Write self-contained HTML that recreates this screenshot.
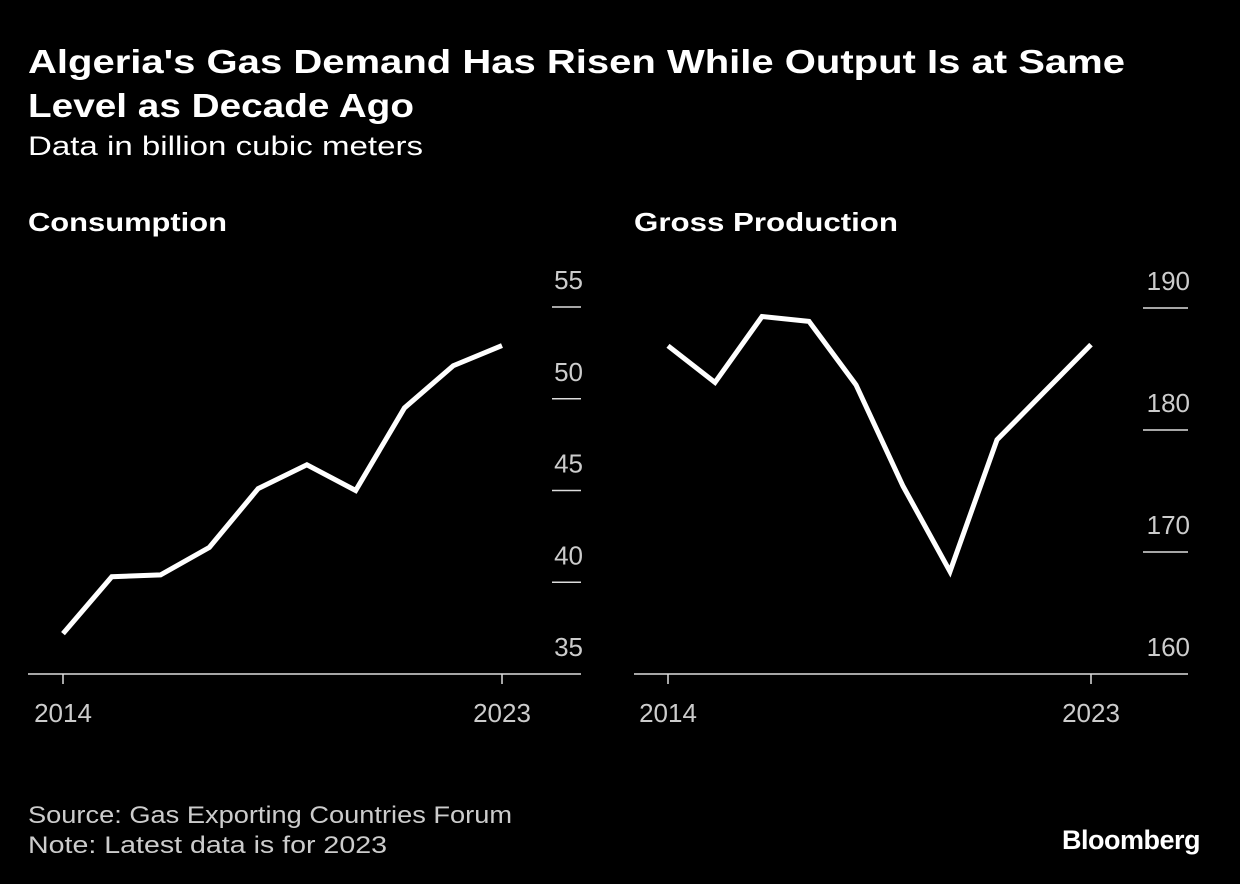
<!DOCTYPE html>
<html><head><meta charset="utf-8"><style>
body{margin:0;background:#000;width:1240px;height:884px;overflow:hidden;font-family:"Liberation Sans",sans-serif;}
svg{position:absolute;left:0;top:0}
</style></head><body>
<svg width="1240" height="884">
<text x="28" y="73" fill="#fff" font-size="33" font-weight="bold" textLength="1097" lengthAdjust="spacingAndGlyphs">Algeria's Gas Demand Has Risen While Output Is at Same</text>
<text x="28" y="117" fill="#fff" font-size="33" font-weight="bold" textLength="386" lengthAdjust="spacingAndGlyphs">Level as Decade Ago</text>
<text x="28" y="155" fill="#fff" font-size="27" textLength="395" lengthAdjust="spacingAndGlyphs">Data in billion cubic meters</text>
<text x="28" y="231" fill="#fff" font-size="26" font-weight="bold" textLength="199" lengthAdjust="spacingAndGlyphs">Consumption</text>
<text x="634" y="231" fill="#fff" font-size="26" font-weight="bold" textLength="264" lengthAdjust="spacingAndGlyphs">Gross Production</text>
<g id="left"></g><g id="right"></g>
<text x="28" y="823" fill="#ccc" font-size="24" textLength="484" lengthAdjust="spacingAndGlyphs">Source: Gas Exporting Countries Forum</text>
<text x="28" y="853" fill="#ccc" font-size="24" textLength="359" lengthAdjust="spacingAndGlyphs">Note: Latest data is for 2023</text>
<text x="1200" y="849" fill="#fff" font-size="27" font-weight="bold" text-anchor="end" letter-spacing="-0.5">Bloomberg</text>
</svg>
<script>
const years=[2014,2015,2016,2017,2018,2019,2020,2021,2022,2023];
const consumption=[37.2,40.3,40.4,41.9,45.1,46.4,45.0,49.5,51.8,52.9];
const production=[186.9,183.9,189.3,188.9,183.7,175.4,168.4,179.2,183.1,187.0];
const consTicks=[35,40,45,50,55];
const prodTicks=[160,170,180,190];
const NS="http://www.w3.org/2000/svg";
function mk(p,t,a){const e=document.createElementNS(NS,t);for(const k in a)e.setAttribute(k,a[k]);p.appendChild(e);return e;}
function draw(gid,vals,ticks,ymin,ymax,yTop,x0,x1,axL,axR,tickL,name){
 const g=document.getElementById(gid);
 const yb=674;
 const ys=v=>yb-(v-ymin)/(ymax-ymin)*(yb-yTop);
 const xs=i=>x0+(x1-x0)*(i)/(years.length-1);
 ticks.forEach(t=>{
  if(t!==ymin){const l=mk(g,'line',{x1:tickL,x2:axR,y1:ys(t),y2:ys(t),stroke:'#ddd','stroke-width':1.5});
  
  }
  const tx=mk(g,'text',{x:axR+2,y:ys(t)-18,fill:'#ccc','font-size':26,'text-anchor':'end'});
  tx.textContent=t;
  
  
 });
 const b=mk(g,'line',{x1:axL,x2:axR,y1:yb,y2:yb,stroke:'#ddd','stroke-width':1.5});
 
 
 [0,years.length-1].forEach(i=>{
  const t=mk(g,'line',{x1:xs(i),x2:xs(i),y1:yb,y2:yb+10,stroke:'#ddd','stroke-width':1.5});
  
  
  const tx=mk(g,'text',{x:xs(i),y:722,fill:'#ccc','font-size':26,'text-anchor':'middle'});
  tx.textContent=years[i];
  
  
 });
 const p=mk(g,'polyline',{points:vals.map((v,i)=>xs(i)+','+ys(v)).join(' '),fill:'none',stroke:'#fff','stroke-width':5,'stroke-linejoin':'miter','stroke-linecap':'butt'});
 
 
}
draw('left',consumption,consTicks,35,55,307,63,502,28,581,552,'consumption');
draw('right',production,prodTicks,160,190,308,668,1091,634,1188,1143,'production');
</script>
</body></html>
